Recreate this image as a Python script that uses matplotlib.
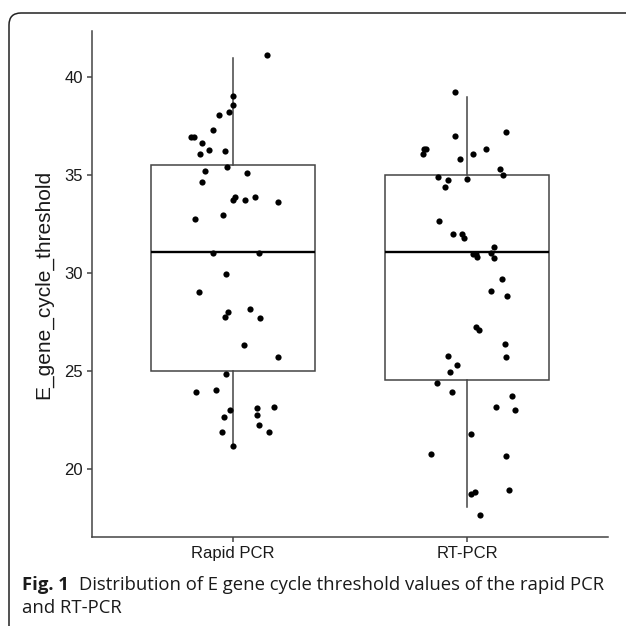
#!/usr/bin/env python3
# Box plot of E gene Ct values (rapid PCR vs RT-PCR) with jittered points.

import matplotlib
matplotlib.use('Agg')
import matplotlib.pyplot as plt
from matplotlib.path import Path
from matplotlib.patches import PathPatch

groups = ['Rapid PCR', 'RT-PCR']

# Ct values, with the horizontal jitter of each point
rapid_ct = [41.16, 39.04, 38.58, 38.23, 38.07, 37.29, 36.96, 36.96, 36.64, 36.28,
            36.06, 36.22, 35.40, 35.23, 35.12, 34.65, 33.87, 33.73, 33.71, 33.87,
            33.61, 32.98, 32.76, 31.03, 31.03, 29.93, 29.04, 28.02, 27.76, 28.15,
            27.71, 26.30, 25.72, 24.83, 23.93, 24.03, 22.99, 23.09, 22.77, 23.14,
            22.62, 22.21, 21.88, 21.88, 21.15]
rapid_jit = [0.144, 0.000, 0.000, -0.017, -0.057, -0.084, -0.177, -0.163, -0.130, -0.103,
             -0.138, -0.031, -0.023, -0.120, 0.059, -0.130, 0.009, 0.000, 0.053, 0.094,
             0.194, -0.040, -0.161, -0.083, 0.113, -0.027, -0.144, -0.020, -0.031, 0.073,
             0.117, 0.050, 0.194, -0.029, -0.157, -0.071, -0.011, 0.104, 0.104, 0.175,
             -0.036, 0.113, -0.044, 0.154, 0.000]

rt_ct = [39.23, 37.01, 37.22, 36.33, 36.33, 36.06, 36.33, 36.06, 35.81, 35.30,
         35.01, 34.92, 34.77, 34.80, 34.38, 32.65, 31.99, 31.99, 31.77, 31.31,
         30.95, 30.95, 30.83, 31.03, 30.76, 29.67, 29.09, 28.83, 27.22, 27.08,
         26.35, 25.72, 25.77, 25.29, 24.93, 24.36, 23.93, 23.72, 23.14, 22.99,
         21.77, 20.74, 20.67, 18.73, 18.83, 18.89, 17.62]
rt_jit = [-0.053, -0.053, 0.163, -0.186, -0.178, -0.188, 0.081, 0.024, -0.032, 0.140,
          0.154, -0.124, -0.083, -0.003, -0.097, -0.120, -0.062, -0.021, -0.016, 0.114,
          0.024, 0.036, 0.043, 0.100, 0.114, 0.150, 0.100, 0.171, 0.036, 0.050,
          0.160, 0.167, -0.083, -0.043, -0.074, -0.128, -0.066, 0.190, 0.121, 0.203,
          0.014, -0.153, 0.167, 0.014, 0.033, 0.177, 0.054]

# box statistics as drawn
box_q1 = [24.98, 24.51]
box_med = [31.08, 31.07]
box_q3 = [35.50, 35.02]
whisk_lo = [21.15, 18.05]
whisk_hi = [41.00, 39.00]

yticks = [20, 25, 30, 35, 40]

W, H = 629, 626
fig = plt.figure(figsize=(W / 100, H / 100), dpi=100)
ax = fig.add_axes([92 / W, 1 - 537 / H, (608 - 92) / W, (537 - 31) / H])

stats = []
for i, g in enumerate(groups):
    stats.append({'label': g, 'q1': box_q1[i], 'med': box_med[i], 'q3': box_q3[i],
                  'whislo': whisk_lo[i], 'whishi': whisk_hi[i], 'fliers': []})
ax.bxp(stats, positions=[1, 2], widths=0.7, showfliers=False, showcaps=False,
       patch_artist=True,
       boxprops={'facecolor': 'white', 'edgecolor': '#444444', 'linewidth': 1.1},
       whiskerprops={'color': '#444444', 'linewidth': 1.1},
       medianprops={'color': 'black', 'linewidth': 1.7})

for pos, ct, jit in [(1, rapid_ct, rapid_jit), (2, rt_ct, rt_jit)]:
    ax.scatter([pos + j for j in jit], ct, s=20, color='black', linewidths=0, zorder=3)

ax.set_xlim(0.4, 2.6)
ax.set_ylim(16.51, 42.37)
ax.set_xticks([1, 2])
ax.set_xticklabels(groups)
ax.set_yticks(yticks)
for side in ['top', 'right']:
    ax.spines[side].set_visible(False)
for side in ['left', 'bottom']:
    ax.spines[side].set_color('#444444')
    ax.spines[side].set_linewidth(1.1)
ax.tick_params(colors='#444444', length=3.5, width=1.1, pad=3,
               labelcolor='#1a1a1a', labelsize=12)
for lab in ax.get_xticklabels() + ax.get_yticklabels():
    lab.set_fontfamily('Liberation Sans')
ax.set_ylabel('E_gene_cycle_threshold', fontsize=15, fontfamily='Liberation Sans',
              color='#1a1a1a', labelpad=8)

# rounded frame (top + left edge only)
def fx(x):
    return x / W

def fy(y):
    return 1 - y / H

verts = [(fx(9), fy(626)), (fx(9), fy(25)), (fx(9), fy(13)), (fx(21), fy(13)), (fx(626), fy(13))]
codes = [Path.MOVETO, Path.LINETO, Path.CURVE3, Path.CURVE3, Path.LINETO]
fig.add_artist(PathPatch(Path(verts, codes), transform=fig.transFigure,
                         facecolor='none', edgecolor='#222222', linewidth=1.1))

# caption
cap_font = 'Open Sans'
cap_size = 13.3
t1 = fig.text(fx(22), fy(590), 'Fig. 1', fontsize=cap_size, fontweight='bold',
              fontfamily=cap_font, va='baseline', ha='left', color='#1a1a1a')
fig.canvas.draw()
bb = t1.get_window_extent()
fig.text((bb.x1 + 10) / W, fy(590),
         'Distribution of E gene cycle threshold values of the rapid PCR',
         fontsize=cap_size, fontfamily=cap_font, va='baseline', ha='left', color='#1a1a1a')
fig.text(fx(22), fy(613), 'and RT-PCR', fontsize=cap_size, fontfamily=cap_font,
         va='baseline', ha='left', color='#1a1a1a')

fig.savefig('out.png', dpi=100)
